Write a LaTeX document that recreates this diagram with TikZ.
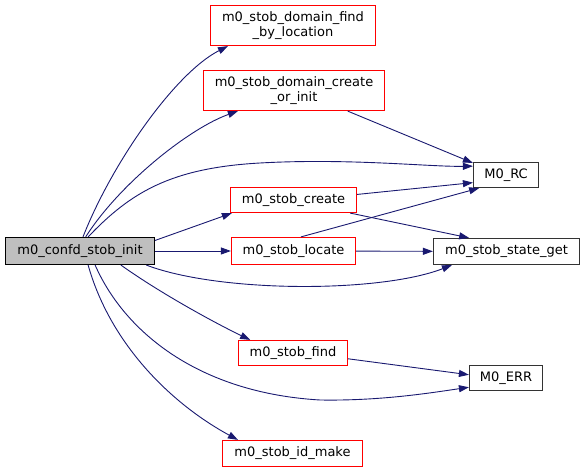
\documentclass[tikz,border=0pt]{standalone}
\usepackage{fontspec}
\setmainfont{DejaVu Sans}
\usetikzlibrary{arrows.meta}
\definecolor{edgeblue}{RGB}{25,25,112}
\definecolor{rootgray}{RGB}{191,191,191}
\definecolor{fnred}{RGB}{255,0,0}

\begin{document}
\begin{tikzpicture}[x=1pt, y=1pt,
    fn/.style={draw=fnred, fill=white, line width=1.2pt, inner sep=0pt,
               align=center, font=\fontsize{13}{15}\selectfont},
    ext/.style={fn, draw=black!80},
    root/.style={fn, draw=black, fill=rootgray},
    call/.style={-{Triangle[length=10pt, width=7pt]}, edgeblue, line width=0.9pt},
]
\useasboundingbox (0,0) rectangle (585,473);

% caller
\node[root, minimum width=149pt, minimum height=27pt] (init) at (80,222) {m0\_confd\_stob\_init};

% callees
\node[fn, minimum width=165pt, minimum height=40pt] (findloc) at (293,447.5)
    {m0\_stob\_domain\_find\\\_by\_location};
\node[fn, minimum width=181pt, minimum height=40pt] (createinit) at (294,382.5)
    {m0\_stob\_domain\_create\\\_or\_init};
\node[fn, minimum width=126pt, minimum height=25pt] (create) at (293.5,273) {m0\_stob\_create};
\node[fn, minimum width=124pt, minimum height=27pt] (locate) at (293.5,222) {m0\_stob\_locate};
\node[fn, minimum width=109pt, minimum height=25pt] (find) at (293,120) {m0\_stob\_find};
\node[fn, minimum width=140pt, minimum height=26pt] (idmake) at (292.5,19.5) {m0\_stob\_id\_make};

% leaves
\node[ext, minimum width=65pt, minimum height=25pt] (rc) at (506,298) {M0\_RC};
\node[ext, minimum width=146pt, minimum height=26pt] (stateget) at (506.5,221.5) {m0\_stob\_state\_get};
\node[ext, minimum width=73pt, minimum height=25pt] (err) at (506,95) {M0\_ERR};

% calls from m0_confd_stob_init
\draw[call] (init.78) .. controls (112,310) and (175,400) .. ([xshift=18pt]findloc.south west);
\draw[call] (init.68) .. controls (120,290) and (190,345) .. ([xshift=35pt]createinit.south west);
\draw[call] (init.60) .. controls (130,280) and (170,305) .. (260,310)
    .. controls (350,315) and (430,306) .. (rc.165);
\draw[call] (init.8) -- (create.192);
\draw[call] (init) -- (locate);
\draw[call] (init.348) .. controls (220,180) and (380,180) .. (stateget.194.5);
\draw[call] (init.341) .. controls (160,180) and (215,150) .. (find.163);
\draw[call] (init.317) .. controls (125,140) and (200,80) .. (320,73)
    .. controls (380,72) and (430,80) .. (err.194);
\draw[call] (init.300) .. controls (110,130) and (170,70) .. (idmake.166);

% calls between callees
\draw[call] (createinit.339) -- (rc.160);
\draw[call] (create.5) -- (rc.193);
\draw[call] (create.347) -- (stateget.160);
\draw[call] (locate.62) -- (rc.206);
\draw[call] (locate) -- (stateget);
\draw[call] (find.354) -- (err.175);
\end{tikzpicture}
\end{document}
